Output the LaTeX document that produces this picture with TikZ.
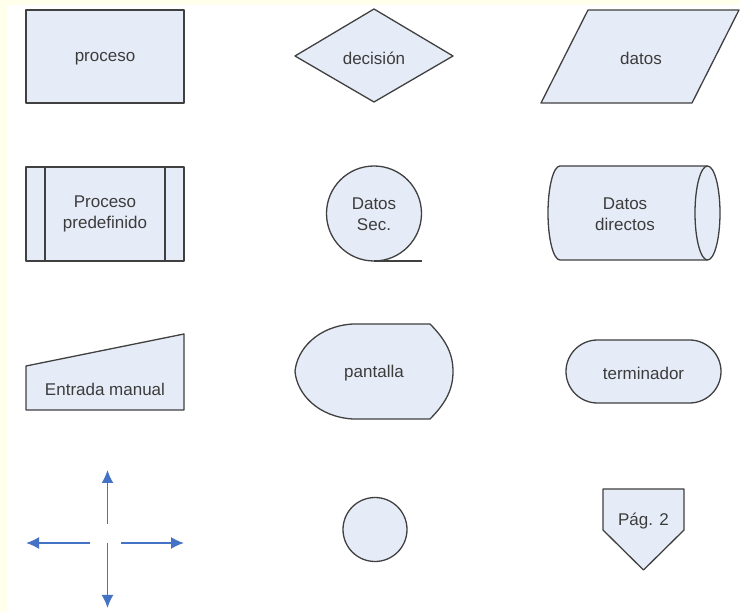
\documentclass[tikz,border=0pt]{standalone}
\usepackage{fontspec}
\setmainfont{Liberation Sans}
\usetikzlibrary{arrows.meta}
\definecolor{pagebg}{HTML}{FFFFEC}
\definecolor{shapefill}{HTML}{E6ECF7}
\definecolor{shapeline}{HTML}{404040}
\definecolor{labeltext}{HTML}{3C3C3C}
\definecolor{flowblue}{HTML}{4472C4}
\tikzset{
  symbolbox/.style={fill=shapefill, draw=shapeline, line width=1.3pt, line join=round},
  outline/.style={draw=shapeline, line width=1.3pt},
  caption/.style={text=labeltext, font=\fontsize{17}{21}\selectfont, align=center, inner sep=0pt},
  flow/.style={draw=flowblue, line width=1.8pt, -{Latex[length=13pt,width=12pt]}},
}
\begin{document}
\begin{tikzpicture}[x=1pt, y=-1pt]
  % page background with a white panel
  \fill[pagebg] (0,0) rectangle (740,612);
  \fill[white] (7,5) rectangle (740,612);
  \useasboundingbox (0,0) rectangle (740,612);

  % ---- row 1 ----
  \path[symbolbox] (26,10) rectangle (184,103);
  \node[caption] (proceso) at (105,59) {proceso};

  \path[symbolbox] (295,56) -- (374,9) -- (453,56) -- (374,102) -- cycle;
  \node[caption] (decision) at (374,58) {decisión};

  \path[symbolbox] (588,10) -- (739,10) -- (692,103) -- (541,103) -- cycle;
  \node[caption] (datos) at (641,58) {datos};

  % ---- row 2 ----
  \path[symbolbox] (26,167) rectangle (184,261);
  \draw[outline] (45,167) -- (45,261);
  \draw[outline] (165,167) -- (165,261);
  \node[caption] (predef) at (105,214) {Proceso\\predefinido};

  \path[symbolbox] (374,213.5) circle[radius=47.5pt];
  \draw[outline] (374,261) -- (422,261);
  \node[caption] (datossec) at (374,214) {Datos\\Sec.};

  \path[symbolbox] (560,166) -- (707.5,166)
    .. controls (714.4,166) and (720,187.1) .. (720,213)
    .. controls (720,238.9) and (714.4,260) .. (707.5,260)
    -- (560,260)
    .. controls (553.4,260) and (548,238.9) .. (548,213)
    .. controls (548,187.1) and (553.4,166) .. (560,166) -- cycle;
  \draw[outline] (707.5,166)
    .. controls (700.6,166) and (695,187.1) .. (695,213)
    .. controls (695,238.9) and (700.6,260) .. (707.5,260);
  \node[caption] (directos) at (625,214) {Datos\\directos};

  % ---- row 3 ----
  \path[symbolbox] (26,366) -- (184,334) -- (184,410) -- (26,410) -- cycle;
  \node[caption] (manual) at (105,389) {Entrada manual};

  \path[symbolbox] (353,324) -- (430,324)
    .. controls (447,341) and (453,355) .. (453,371.5)
    .. controls (453,388) and (447,402) .. (430,419)
    -- (353,419)
    .. controls (318,417) and (297,394) .. (295,371.5)
    .. controls (297,349) and (318,326) .. (353,324) -- cycle;
  \node[caption] (pantalla) at (374,373) {pantalla};

  \path[symbolbox, rounded corners=31.5pt] (566,340) rectangle (721,403);
  \node[caption] (terminador) at (643.5,373) {terminador};

  % ---- row 4 ----
  \coordinate (hubN) at (107.5,524);
  \coordinate (hubS) at (107.5,543);
  \coordinate (hubW) at (90,543);
  \coordinate (hubE) at (121,543);
  \coordinate (tipN) at (107.5,470);
  \coordinate (tipS) at (107.5,608);
  \coordinate (tipW) at (26,543);
  \coordinate (tipE) at (184,543);
  \draw[flow] (hubN) -- (tipN);
  \draw[flow] (hubS) -- (tipS);
  \draw[flow] (hubW) -- (tipW);
  \draw[flow] (hubE) -- (tipE);

  \path[symbolbox] (375,529.5) circle[radius=32pt];
  \coordinate (conector) at (375,529.5);

  \path[symbolbox] (603,489) -- (684,489) -- (684,530) -- (643.5,570) -- (603,530) -- cycle;
  \node[caption] (pagina) at (643.5,521) {Pág. 2};
\end{tikzpicture}
\end{document}
